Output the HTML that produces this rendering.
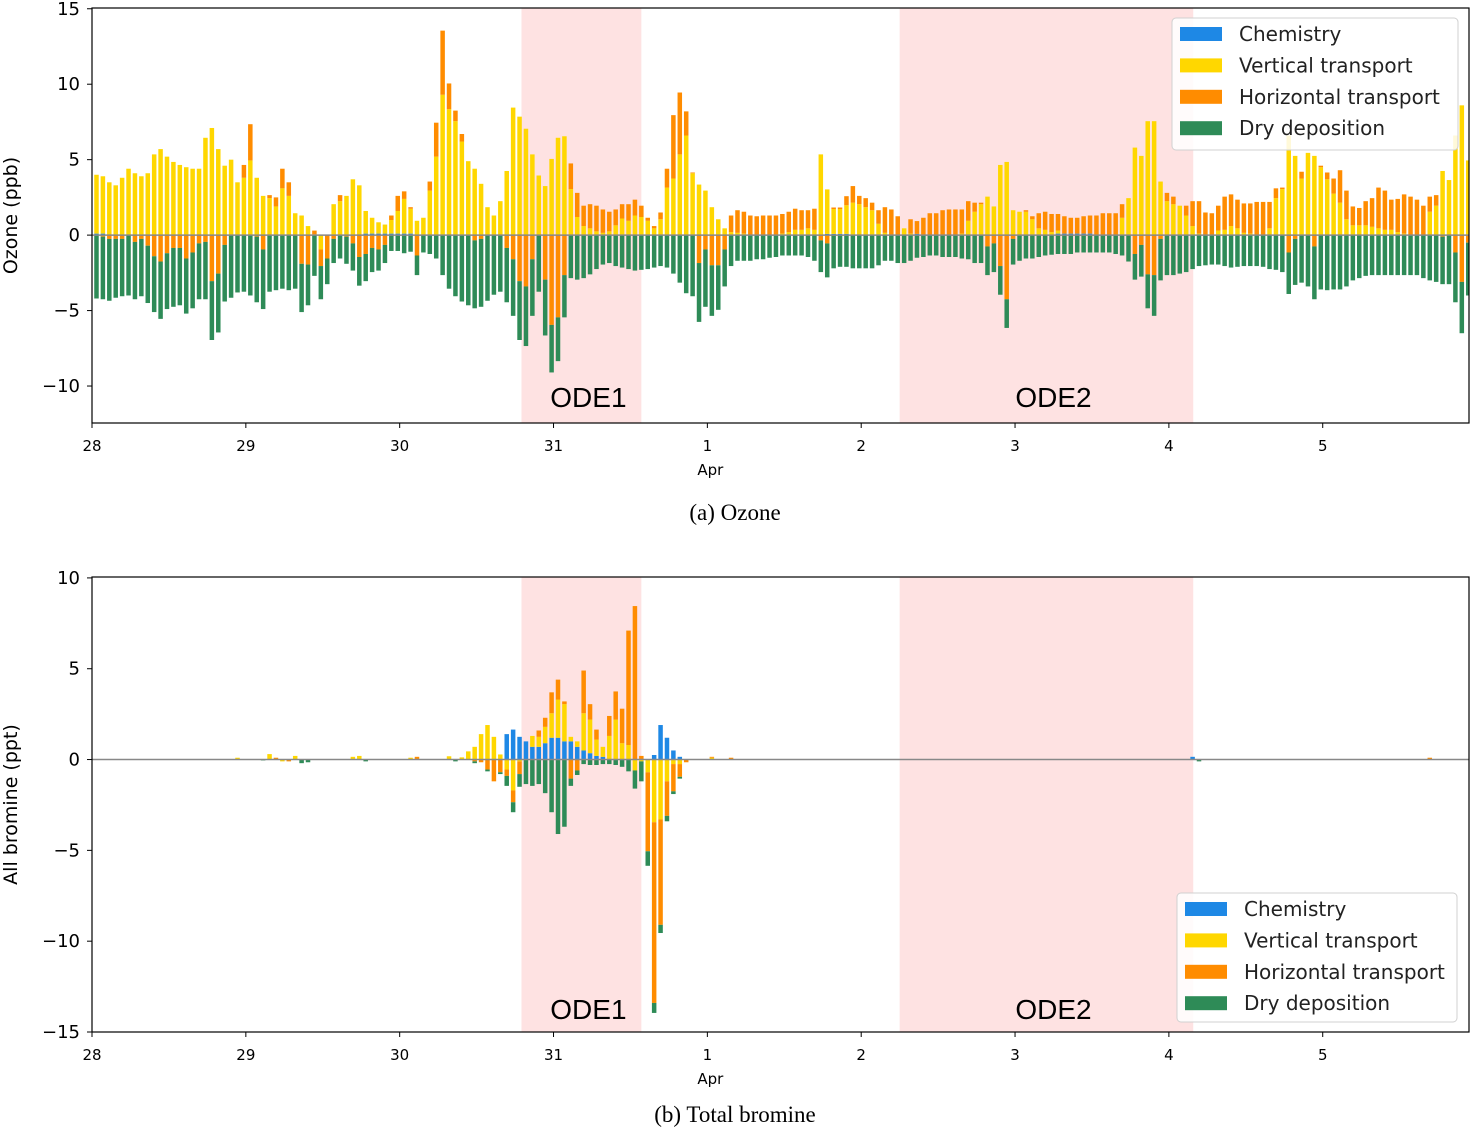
<!DOCTYPE html>
<html><head><meta charset="utf-8">
<style>
html,body{margin:0;padding:0;background:#fff;}
svg{display:block;font-family:"DejaVu Sans","Liberation Sans",sans-serif;}
</style></head>
<body>
<svg id="fig" width="1471" height="1128" viewBox="0 0 1471 1128" xmlns="http://www.w3.org/2000/svg">
<g id="top"></g>
<g id="bot"></g>
<text x="735" y="520" text-anchor="middle" font-family="Liberation Serif, serif" font-size="23">(a) Ozone</text>
<text x="735" y="1122" text-anchor="middle" font-family="Liberation Serif, serif" font-size="23">(b) Total bromine</text>
</svg>
<script>
// ---- data ----
const dayLabels = ["28","29","30","31","1","2","3","4","5"];
const seriesNames = ["Chemistry","Vertical transport","Horizontal transport","Dry deposition"];
const seriesColors = ["#1e88e5","#ffd700","#ff8c00","#2e8b57"];
const odeNames = ["ODE1","ODE2"];
const odeStart = [67, 126];
const odeEnd = [85.7, 171.8];
const barStartHour = 0.7;
const topYTicks = [15,10,5,0,-5,-10];
const botYTicks = [10,5,0,-5,-10,-15];

const o3Chem = [
0.1,0.1,0,0,0,0,0,0,0,0, 0,0,0,0,0,0,0,0,0,0, 0,0,0,0,0,0,0,0,0,0, 0,0,0,0,0,0,0,0,0,0,
0,0,0.1,0.1,0.1,0.1,0.1,0.1,0.1,0.1, 0,0,0,0,0,0,0,0,0,0, 0,0,0,0,0,0,0,0,0,0, 0,0,0,0,0,0,0,0,0,0,
0,0,0,0,0,0,0,0,0,0, 0,0,0,0,0,0,0,0,0,0, 0,0,0,0,0,0,0,0,0,0, 0,0,0,0,0.08,0.08,0.08,0.08,0,0,
0,0,0,0,0,0,0,0,0.08,0, 0,0,0,0,0,0,0,0,0,0, 0,0,0,0,0,0,0,0,0,0, 0.1,0.1,0.1,0.1,0.1,0.1,0,0,0,0,
0,0,0,0,0,0,0,0,0,0, 0,0,0,0,0,0,0,0,0,0, 0,0,0,0,0,0,0,0,0,0, 0,0,0,0,0,0,0,0,0,0,
0,0,0,0,0,0,0,0,0,0, 0,0,0,0,0];
const o3Vert = [
3.9,3.8,3.5,3.3,3.8,4.4,4.1,3.9,4.1,5.35,
5.7,5.2,4.85,4.65,4.5,4.4,4.4,6.45,7.1,5.7,
4.6,5.0,3.5,3.8,4.95,3.8,2.6,2.45,1.9,3.1,
2.6,1.45,1.3,0.6,0.05,-0.95,0,2.05,2.25,2.6,
3.7,3.3,1.5,1.05,0.75,0.6,0.9,1.5,2.3,1.65,
0.95,1.15,2.95,5.2,9.3,8.35,7.55,6.2,4.9,4.4,
3.4,1.85,1.3,2.25,4.25,8.45,7.85,7.05,5.35,3.95,
3.25,5.05,6.45,6.55,3.05,1.2,0.6,0.45,0.25,0.15,
0.25,0.65,1.1,0.95,1.3,1.2,0.95,0.45,1.05,3.15,
3.75,5.35,6.6,4.1,3.35,2.95,1.85,1.05,0.45,0.2,
0.15,0.1,0,0,0,0,0,0.1,0.2,0.35,
0.35,0.45,0.35,5.35,2.95,1.65,1.65,1.9,2.15,2.05,
1.85,1.65,0.75,0.15,0,0,0.45,0.1,0,0,
0,0,0,0,0,0.1,0.95,1.55,2.05,2.55,
1.9,4.65,4.85,1.65,1.55,1.55,1.05,0.45,0.35,0.2,
0.2,0,0,0,0,0,0,0,0,0,
1.15,2.45,5.8,5.25,7.55,7.55,3.55,2.25,2.05,1.95,
1.3,0.6,0.1,0,0,0.3,0.35,0.6,0.45,0.15,
0.1,0,0,0.45,2.45,3.05,6.6,5.25,3.75,5.45,
5.25,4.5,3.7,2.75,2.15,1.05,0.65,0.65,0.65,0.55,
0.45,0.35,0.35,0.2,0.1,0,0,0,1.55,1.95,4.25,3.65,6.6,8.6,4.95];
const o3Horiz = [
0,-0.1,-0.25,-0.25,-0.25,0,-0.45,-0.25,-0.7,-1.4,
-1.75,-1.2,-0.85,-0.85,-1.55,-1.15,-0.55,-0.45,-3.05,-2.55,
-0.65,0,0,0.85,2.4,-0.1,-0.95,0.2,0.6,1.3,
0.9,0,-1.9,-1.95,0.25,-1.1,-1.55,-0.25,0.4,-0.1,
-0.55,-1.45,-1.25,-0.85,-0.95,-0.65,0.3,1.0,0.5,0.1,
-1.35,0,0.6,2.25,4.25,1.7,0.7,0.5,0,-0.35,
-0.25,0,0,0,-0.85,-1.6,-3.05,-3.4,-1.6,0,
-2.95,-5.95,-5.45,-2.65,1.7,1.6,1.35,1.6,1.7,1.55,
1.3,1.05,0.95,1.1,1.05,0.75,0.2,0.15,0.45,1.25,
4.2,4.1,1.6,0.05,-1.85,-0.95,-2.0,-2.0,-0.95,1.1,
1.5,1.45,1.3,1.25,1.3,1.3,1.3,1.3,1.35,1.4,
1.3,1.2,1.4,-0.35,-0.55,0.1,0.1,0.6,1.1,0.55,
0.6,0.5,0.9,1.7,1.7,1.25,0,0.95,0.85,1.15,
1.45,1.45,1.65,1.7,1.7,1.6,1.3,0.6,0.1,-0.75,
-0.55,-2.05,-4.25,-0.25,0,0.1,0.2,1.0,1.2,1.2,
1.1,1.15,1.05,1.05,1.15,1.2,1.3,1.45,1.45,1.45,
0.9,0,-1.25,-0.65,-2.6,-2.65,-0.25,0.55,0.5,0,
0.65,1.65,2.15,1.5,1.45,1.65,2.2,2.1,1.9,1.95,
2.0,2.2,2.2,1.75,0.65,0.1,-1.15,-0.25,0.45,0,
-0.75,0.1,0.45,1.0,2.15,1.9,1.25,1.15,1.6,1.9,
2.7,2.6,2.0,2.2,2.6,2.55,2.35,1.95,1.0,0.7,-0.1,0,-1.15,-3.1,-0.5];
const o3Dry = [
-4.2,-4.15,-4.1,-3.9,-3.8,-4.0,-3.8,-3.8,-3.8,-3.7,
-3.8,-3.7,-3.9,-3.8,-3.65,-3.7,-3.7,-3.8,-3.9,-3.9,
-3.75,-4.15,-3.8,-3.75,-4.0,-4.35,-3.95,-3.75,-3.65,-3.55,
-3.65,-3.55,-3.2,-2.7,-2.7,-2.2,-1.7,-1.6,-1.55,-1.8,
-1.8,-1.9,-1.8,-1.6,-1.4,-1.2,-1.05,-1.05,-1.2,-1.1,
-1.3,-1.15,-1.25,-1.55,-2.65,-3.55,-4.05,-4.4,-4.65,-4.5,
-4.5,-4.35,-3.95,-3.75,-3.6,-3.75,-3.9,-3.95,-3.75,-3.75,
-3.7,-3.15,-2.9,-2.8,-2.85,-2.95,-2.85,-2.6,-2.25,-1.95,
-1.85,-2.05,-2.15,-2.25,-2.35,-2.3,-2.25,-2.15,-2.05,-2.15,
-2.55,-3.15,-3.85,-4.05,-3.9,-3.8,-3.35,-2.95,-2.45,-2.05,
-1.7,-1.7,-1.7,-1.6,-1.6,-1.5,-1.45,-1.35,-1.35,-1.35,
-1.35,-1.45,-1.7,-2.1,-2.25,-2.2,-2.1,-2.1,-2.2,-2.2,
-2.2,-2.2,-2.0,-1.7,-1.7,-1.85,-1.85,-1.7,-1.5,-1.45,
-1.35,-1.35,-1.45,-1.45,-1.45,-1.55,-1.6,-1.85,-1.85,-1.9,
-1.9,-1.9,-1.9,-1.7,-1.7,-1.55,-1.55,-1.45,-1.35,-1.3,
-1.25,-1.25,-1.25,-1.15,-1.15,-1.15,-1.15,-1.15,-1.15,-1.25,
-1.35,-1.75,-1.7,-2.1,-2.25,-2.7,-2.75,-2.65,-2.65,-2.55,
-2.45,-2.25,-2.05,-2.0,-1.95,-1.95,-2.05,-2.15,-2.1,-2.05,
-2.05,-2.05,-2.1,-2.25,-2.3,-2.45,-2.75,-3.05,-3.15,-3.4,
-3.5,-3.6,-3.65,-3.6,-3.6,-3.4,-3.0,-2.85,-2.7,-2.65,
-2.65,-2.65,-2.65,-2.65,-2.65,-2.65,-2.65,-2.85,-3.0,-3.1,-3.15,-3.25,-3.3,-3.4,-3.5];

const brChem = [
0,0,0,0,0,0,0,0,0,0, 0,0,0,0,0,0,0,0,0,0, 0,0,0,0,0,0,0,0,0,0, 0,0,0,0,0,0,0,0,0,0,
0,0,0,0,0,0,0,0,0,0, 0,0,0,0,0,0,0,0,0,0,
0,0,0,0,1.4,1.65,1.25,1.0,0.7,0.7,
0.9,1.2,1.2,1.0,1.0,0.7,0.5,0.35,0.2,0.15,
0,0,0,0,0,0,0,0.25,1.9,1.2,
0.5,0.15,0,0,0,0,0,0,0,0,
0,0,0,0,0,0,0,0,0,0, 0,0,0,0,0,0,0,0,0,0, 0,0,0,0,0,0,0,0,0,0, 0,0,0,0,0,0,0,0,0,0,
0,0,0,0,0,0,0,0,0,0, 0,0,0,0,0,0,0,0,0,0, 0,0,0,0,0,0,0,0,0,0,
0,0.15,0,0,0,0,0,0,0,0,
0,0,0,0,0,0,0,0,0,0, 0,0,0,0,0,0,0,0,0,0, 0,0,0,0,0,0,0,0,0,0, 0,0,0,0,0];
const brVert = [
0,0,0,0,0,0,0,0,0,0, 0,0,0,0,0,0,0,0,0,0,
0,0,0.1,0,0,0,0,0.3,0,-0.1,
0,0.2,0,0,0,0,0,0,0,0,
0.15,0.2,0,0,0,0,0,0,0,0.1,
0,0,0,0,0,0.18,0,0.12,0.45,0.7,
1.4,1.9,1.25,0.28,-0.55,-1.7,-0.1,0,0.6,0.55,
0.9,1.35,2.1,2.05,0.25,0.3,2.05,1.85,0.9,0.55,
1.3,2.2,0.9,0.8,-0.6,-0.1,-0.7,-3.45,-3.3,-1.2,
-0.25,-0.25,0,0,0,0,0.1,0,0,0,
0,0,0,0,0,0,0,0,0,0, 0,0,0,0,0,0,0,0,0,0, 0,0,0,0,0,0,0,0,0,0, 0,0,0,0,0,0,0,0,0,0,
0,0,0,0,0,0,0,0,0,0, 0,0,0,0,0,0,0,0,0,0, 0,0,0,0,0,0,0,0,0,0, 0,0,0,0,0,0,0,0,0,0,
0,0,0,0,0,0,0,0,0,0, 0,0,0,0,0,0,0,0,0,0, 0,0,0,0,0,0,0,0,0,0, 0,0,0,0,0];
const brHoriz = [
0,0,0,0,0,0,0,0,0,0, 0,0,0,0,0,0,0,0,0,0,
0,0,0,0,0,0,0,0,0.1,0,
-0.1,0,0,0,0,0,0,0,0,0,
0,0,0,0,0,0,0,0,0,0,
0.15,0,0,0,0,0,0,0,0,-0.1,
-0.15,-0.55,-1.2,-0.7,-0.35,-0.65,-0.7,0,0,0.35,
0.5,1.15,1.1,0.15,-1.05,-0.6,2.35,0.85,0.55,0,
1.1,1.55,1.9,6.3,8.45,0.2,-4.35,-9.95,-5.8,-1.9,
-1.5,-0.7,-0.15,0,0,0,0.05,0,0,0.1,
0,0,0,0,0,0,0,0,0,0, 0,0,0,0,0,0,0,0,0,0, 0,0,0,0,0,0,0,0,0,0, 0,0,0,0,0,0,0,0,0,0,
0,0,0,0,0,0,0,0,0,0, 0,0,0,0,0,0,0,0,0,0, 0,0,0,0,0,0,0,0,0,0, 0,0,0,0,0,0,0,0,0,0,
0,0,0,0,0,0,0,0,0,0, 0,0,0,0,0,0,0,0,0,0,
0,0,0,0,0,0,0,0,0.1,0,
0,0,0,0,0];
const brDry = [
0,0,0,0,0,0,0,0,0,0, 0,0,0,0,0,0,0,0,0,0,
0,0,0,0,0,0,-0.05,0,0,0,
0,0,-0.2,-0.15,0,0,0,0,0,0,
0,0,-0.1,0,0,0,0,0,0,0,
0,0,0,0,0,0,-0.1,0,0,-0.1,
0,-0.1,0,-0.1,-0.55,-0.55,-0.7,-1.35,-1.45,-1.35,
-1.85,-2.9,-4.1,-3.7,-0.4,-0.25,-0.25,-0.3,-0.3,-0.25,
-0.25,-0.3,-0.4,-0.65,-1.0,-1.1,-0.8,-0.55,-0.45,-0.3,
-0.15,-0.1,0,0,0,0,0,0,0,0,
0,0,0,0,0,0,0,0,0,0, 0,0,0,0,0,0,0,0,0,0, 0,0,0,0,0,0,0,0,0,0, 0,0,0,0,0,0,0,0,0,0,
0,0,0,0,0,0,0,0,0,0, 0,0,0,0,0,0,0,0,0,0, 0,0,0,0,0,0,0,0,0,0,
0,0,-0.1,0,0,0,0,0,0,0,
0,0,0,0,0,0,0,0,0,0, 0,0,0,0,0,0,0,0,0,0, 0,0,0,0,0,0,0,0,0,0, 0,0,0,0,0];

// ---- drawing ----
const NS = "http://www.w3.org/2000/svg";
function el(tag, attrs, parent){
  const e = document.createElementNS(NS, tag);
  for (const k in attrs) e.setAttribute(k, attrs[k]);
  parent.appendChild(e);
  return e;
}
const X0 = 92, X1 = 1469, HOURS = (1469-92)/6.41;
function xScale(h){ return X0 + h*(X1-X0)/HOURS; }

function drawPanel(g, cfg){
  const yScale = v => cfg.yTop + (cfg.vMax - v)*(cfg.yBot - cfg.yTop)/(cfg.vMax - cfg.vMin);
  const clipId = cfg.id + "-clip";
  const defs = el("defs", {}, g);
  const cp = el("clipPath", {id: clipId}, defs);
  el("rect", {x: X0, y: cfg.yTop, width: X1-X0, height: cfg.yBot-cfg.yTop}, cp);
  const inner = el("g", {"clip-path": "url(#"+clipId+")"}, g);
  for (let k=0;k<odeNames.length;k++){
    const r = el("rect", {x: xScale(odeStart[k]), y: cfg.yTop, width: xScale(odeEnd[k])-xScale(odeStart[k]), height: cfg.yBot-cfg.yTop, fill: "#fee2e2"}, inner);
    
    
  }
  const series = cfg.series;
  const n = Math.max.apply(null, series.map(s => s.length));
  const bw = 4.5;
  for (let i=0;i<n;i++){
    const cx = xScale(barStartHour + i);
    let pos = 0, neg = 0;
    for (let s=0;s<series.length;s++){
      const v = series[s][i] || 0;
      if (!v) continue;
      let a, b;
      if (v > 0){ a = pos; b = pos + v; pos = b; }
      else { a = neg; b = neg + v; neg = b; }
      const y1 = yScale(Math.max(a,b)), y2 = yScale(Math.min(a,b));
      const r = el("rect", {x: cx - bw/2, y: y1, width: bw, height: Math.max(0.5, y2-y1), fill: seriesColors[s]}, inner);
      
      
    }
  }
  const zl = el("line", {x1: X0, x2: X1, y1: yScale(0), y2: yScale(0), stroke: "#888", "stroke-width": 1.5}, inner);
  
  
  for (let k=0;k<odeNames.length;k++){
    const t = el("text", {x: (xScale(odeStart[k])+xScale(odeEnd[k]))/2 + 7, y: cfg.odeY, "text-anchor": "middle", "font-size": 28, "font-family": "Liberation Sans, sans-serif", fill: "#000"}, g);
    t.textContent = odeNames[k];
    
    
  }
  const fr = el("rect", {x: X0, y: cfg.yTop, width: X1-X0, height: cfg.yBot-cfg.yTop, fill: "none", stroke: "#000", "stroke-width": 1.2}, g);
  
  
  cfg.yTicks.forEach(v => {
    const y = yScale(v);
    el("line", {x1: X0-5, x2: X0, y1: y, y2: y, stroke: "#000", "stroke-width": 1}, g);
    const t = el("text", {x: X0-12, y: y+6, "text-anchor": "end", "font-size": 18, fill: "#000"}, g);
    t.textContent = v < 0 ? "\u2212" + Math.abs(v) : String(v);
    
    
  });
  dayLabels.forEach((lab, d) => {
    const x = xScale(d*24);
    el("line", {x1: x, x2: x, y1: cfg.yBot, y2: cfg.yBot+5, stroke: "#000", "stroke-width": 1}, g);
    const t = el("text", {x: x, y: cfg.yBot+28, "text-anchor": "middle", "font-size": 15, fill: "#000"}, g);
    t.textContent = lab;
    
    
  });
  const apr = el("text", {x: xScale(4*24)+3, y: cfg.yBot+52, "text-anchor": "middle", "font-size": 15, fill: "#000"}, g);
  apr.textContent = "Apr";
  
  
  const cy = (cfg.yTop+cfg.yBot)/2;
  const yt = el("text", {x: 17, y: cy, transform: "rotate(-90 17 "+cy+")", "text-anchor": "middle", "font-size": 19, fill: "#000"}, g);
  yt.textContent = cfg.yTitle;
  
  
  const L = cfg.legend;
  const lg = el("g", {}, g);
  
  
  el("rect", {x: L.x, y: L.y, width: L.w, height: L.h, rx: 4, fill: "#fff", "fill-opacity": 0.85, stroke: "#d0d0d0", "stroke-width": 1}, lg);
  seriesNames.forEach((nm, s) => {
    const ry = L.y + 16 + s*31.4;
    el("rect", {x: L.x+8, y: ry-7, width: 42, height: 14, fill: seriesColors[s]}, lg);
    const t = el("text", {x: L.x+67, y: ry+7, "font-size": 20, fill: "#222"}, lg);
    t.textContent = nm;
    
    
  });
}

drawPanel(document.getElementById("top"), {
  id: "ozone", yTop: 8, yBot: 423, vMax: 15.05, vMin: -12.45,
  yTicks: topYTicks, series: [o3Chem, o3Vert, o3Horiz, o3Dry],
  yTitle: "Ozone (ppb)", odeY: 407,
  legend: {x: 1172, y: 18, w: 286, h: 132}
});
drawPanel(document.getElementById("bot"), {
  id: "bromine", yTop: 577, yBot: 1032, vMax: 10.05, vMin: -15.0,
  yTicks: botYTicks, series: [brChem, brVert, brHoriz, brDry],
  yTitle: "All bromine (ppt)", odeY: 1019,
  legend: {x: 1177, y: 893, w: 280, h: 129}
});
</script>
</body></html>
